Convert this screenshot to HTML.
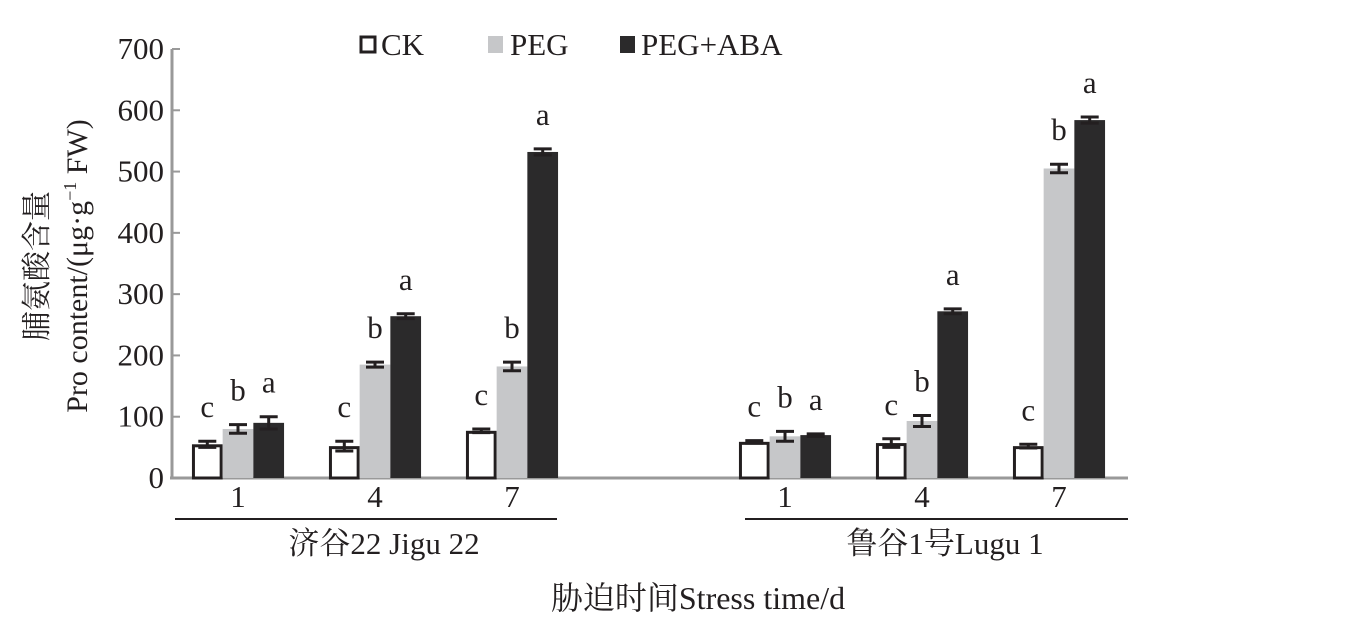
<!DOCTYPE html>
<html><head><meta charset="utf-8"><style>
body{margin:0;background:#fff}
svg text{font-family:"Liberation Serif","Noto Serif CJK SC","Noto Sans CJK SC",serif;fill:#231f20}
</style></head><body>
<svg width="1355" height="614" xmlns="http://www.w3.org/2000/svg" id="chart">
<g id="plot"></g>
<g>
<rect x="361" y="37" width="14" height="15" fill="#fff" stroke="#231f20" stroke-width="3"/>
<text x="381" y="55" font-size="31">CK</text>
<rect x="488" y="36" width="15" height="17" fill="#c6c7c9"/>
<text x="510" y="55" font-size="31">PEG</text>
<rect x="620" y="36" width="15" height="17" fill="#2b2a2b"/>
<text x="641" y="55" font-size="31">PEG+ABA</text>
</g>
<text x="698" y="609" text-anchor="middle" font-size="32">胁迫时间Stress time/d</text>
<text transform="translate(47,266) rotate(-90)" text-anchor="middle" font-size="30">脯氨酸含量</text>
<text transform="translate(87,266) rotate(-90)" text-anchor="middle" font-size="30">Pro content/(μg·g<tspan dy="-11" font-size="18">−1</tspan><tspan dy="11"> FW)</tspan></text>
</svg>
<script>
const categories=["1","4","7"];
const groups=["济谷22 Jigu 22","鲁谷1号Lugu 1"];
const seriesNames=["CK","PEG","PEG+ABA"];
const ckValues=[[55,52,77],[59,57,52]];
const pegValues=[[80,185,182],[68,93,505]];
const abaValues=[[90,264,532],[70,272,584]];
const ckErr=[[5,8,3],[2,7,3]];
const pegErr=[[7,4,7],[8,9,7]];
const abaErr=[[10,4,5],[2,4,5]];
const ckLetters=[["c","c","c"],["c","c","c"]];
const pegLetters=[["b","b","b"],["b","b","b"]];
const abaLetters=[["a","a","a"],["a","a","a"]];
const yTicks=[0,100,200,300,400,500,600,700];

const NS="http://www.w3.org/2000/svg";
const g=document.getElementById('plot');
function el(t,a,txt){const e=document.createElementNS(NS,t);for(const k in a)e.setAttribute(k,a[k]);if(txt!==undefined)e.textContent=txt;g.appendChild(e);return e;}
const y0=478,yTop=49,yMax=700;
function yScale(v){return y0-(v/yMax)*(y0-yTop);}
const groupStart=[238,785],catStep=137,barW=30.7;
function xCenter(gi,ci){return groupStart[gi]+ci*catStep;}

let e=el('line',{x1:172,y1:yTop,x2:172,y2:y0+1,stroke:'#999',"stroke-width":3});


e=el('line',{x1:170,y1:y0,x2:1128,y2:y0,stroke:'#999',"stroke-width":3});


yTicks.forEach(t=>{
  let tk=el('line',{x1:172,y1:yScale(t),x2:180,y2:yScale(t),stroke:'#999',"stroke-width":2});
  
  
  let tl=el('text',{x:164,y:yScale(t)+10,"text-anchor":"end","font-size":31},String(t));
  
  
});

const fills=['#fff','#c6c7c9','#2b2a2b'];
const vals=[ckValues,pegValues,abaValues],errs=[ckErr,pegErr,abaErr],lets=[ckLetters,pegLetters,abaLetters];
for(let gi=0;gi<2;gi++){
  for(let ci=0;ci<3;ci++){
    const cx=xCenter(gi,ci);
    for(let s=0;s<3;s++){
      const v=vals[s][gi][ci],er=errs[s][gi][ci];
      const x=cx-1.5*barW+s*barW;
      let b;
      if(s===0){b=el('rect',{x:x+1.5,y:yScale(v)+1.5,width:barW-3,height:y0-yScale(v)-1.5,fill:'#fff',stroke:'#231f20',"stroke-width":3});}
      else b=el('rect',{x:x,y:yScale(v),width:barW,height:y0-yScale(v),fill:fills[s]});
      
      
      const mx=x+barW/2,yt=yScale(v+er),yb=yScale(v-er);
      const eb=el('path',{d:`M${mx-9},${yt}H${mx+9}M${mx},${yt}V${yb}M${mx-9},${yb}H${mx+9}`,stroke:'#231f20',"stroke-width":3,fill:'none'});
      
      
      const lt=el('text',{x:mx,y:yt-24,"text-anchor":"middle","font-size":31},lets[s][gi][ci]);
      
      
    }
    const cl=el('text',{x:cx,y:507,"text-anchor":"middle","font-size":31},categories[ci]);
    
    
  }
  const lx1=gi===0?175:745,lx2=gi===0?557:1128;
  const ln=el('line',{x1:lx1,y1:519,x2:lx2,y2:519,stroke:'#231f20',"stroke-width":2});
  
  
  const gl=el('text',{x:gi===0?384:945,y:554,"text-anchor":"middle","font-size":31},groups[gi]);
  
  
}
</script>
</body></html>
